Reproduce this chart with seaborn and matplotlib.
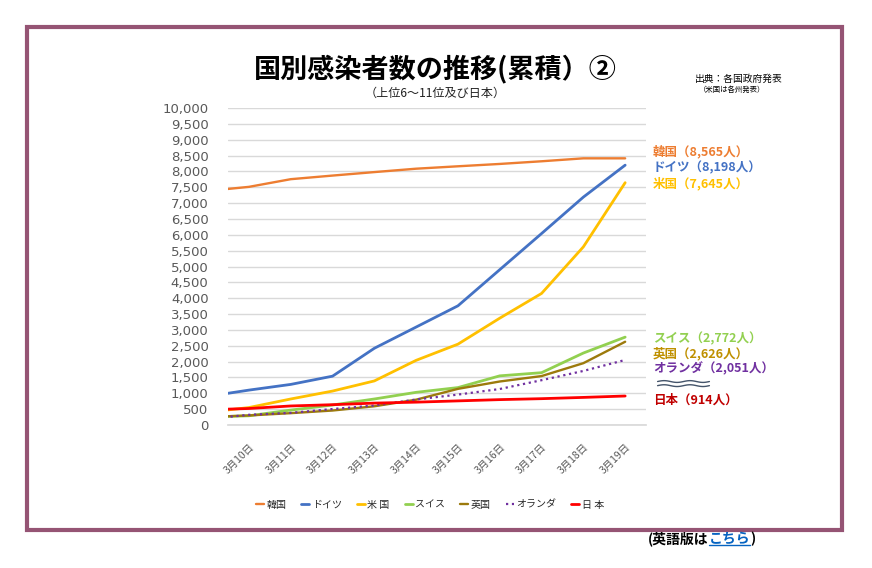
import matplotlib
matplotlib.use("Agg")
import matplotlib.pyplot as plt
import seaborn as sns
import numpy as np
from matplotlib.patches import Rectangle
from matplotlib.lines import Line2D

# data: 3/9 .. 3/19 (3/9 lies just left of the axis and is clipped)
dates = ["3月9日", "3月10日", "3月11日", "3月12日", "3月13日", "3月14日",
         "3月15日", "3月16日", "3月17日", "3月18日", "3月19日"]
korea = [7382, 7513, 7755, 7869, 7979, 8086, 8162, 8236, 8320, 8413, 8413]
germany = [900, 1100, 1280, 1540, 2420, 3090, 3760, 4900, 6040, 7190, 8198]
usa = [400, 550, 820, 1070, 1390, 2040, 2550, 3370, 4150, 5620, 7645]
swiss = [250, 290, 470, 630, 820, 1030, 1180, 1550, 1650, 2270, 2772]
uk = [250, 300, 373, 456, 590, 798, 1140, 1372, 1543, 1950, 2626]
netherlands = [188, 321, 382, 503, 614, 804, 959, 1135, 1413, 1705, 2051]
japan = [480, 520, 600, 640, 690, 720, 760, 800, 830, 870, 914]

legend_names = ["韓国", "ドイツ", "米 国", "スイス", "英国", "オランダ", "日 本"]
end_labels = ["韓国（8,565人）", "ドイツ（8,198人）", "米国（7,645人）",
              "スイス（2,772人）", "英国（2,626人）", "オランダ（2,051人）", "日本（914人）"]

sns.set_theme(style="white")
plt.rcParams['font.family'] = ['Noto Sans CJK JP', 'DejaVu Sans']

fig = plt.figure(figsize=(8.72, 5.68), dpi=100)
ax = fig.add_axes([0.2615, 0.2518, 0.4794, 0.558])

x = np.arange(len(dates)) - 1
series = [korea, germany, usa, swiss, uk, netherlands, japan]
colors = ["#ED7D31", "#4472C4", "#FFC000", "#92D050", "#9C7A0C", "#7030A0", "#FF0000"]
widths = [1.7, 2.0, 2.0, 2.0, 1.7, 1.6, 2.0]
styles = ["-", "-", "-", "-", "-", ":", "-"]

for vals, name, c, lw, ls in zip(series, legend_names, colors, widths, styles):
    sns.lineplot(x=x, y=vals, ax=ax, color=c, linewidth=lw, linestyle=ls, label=name)

ax.set_xlim(-0.5, 9.5)
ax.set_ylim(0, 10000)
ax.set_yticks(np.arange(0, 10001, 500))
ax.set_yticklabels([f"{v:,}" for v in range(0, 10001, 500)],
                   fontsize=9.5, color="#595959", family="DejaVu Sans")
ax.set_xticks(np.arange(10))
ax.set_xticklabels(dates[1:], rotation=45, ha="right", rotation_mode="anchor",
                   fontsize=7.5, color="#595959")
ax.set_xticks(np.arange(-0.5, 10, 1), minor=True)
ax.tick_params(axis="x", which="major", length=0, pad=12)
ax.tick_params(axis="x", which="minor", length=5, color="#D9D9D9", width=1)
ax.tick_params(axis="y", length=0, pad=14)
ax.grid(axis="y", color="#D9D9D9", linewidth=1)
ax.set_axisbelow(True)
for s in ["top", "right", "left"]:
    ax.spines[s].set_visible(False)
ax.spines["bottom"].set_color("#D9D9D9")
ax.set_xlabel("")
ax.set_ylabel("")
ax.get_legend().remove()

handles, labels = ax.get_legend_handles_labels()
fig.legend(handles, labels, loc="center", bbox_to_anchor=(0.493, 0.111), ncol=7,
           frameon=False, fontsize=7.2, handlelength=0.8, columnspacing=1.5,
           handletextpad=0.25)

# titles
fig.text(0.499, 0.879, "国別感染者数の推移(累積）②", ha="center", va="center",
         fontsize=19.5, fontweight="bold", color="black")
fig.text(0.499, 0.836, "（上位6～11位及び日本）", ha="center", va="center",
         fontsize=8.7, color="#222222")
fig.text(0.797, 0.862, "出典：各国政府発表", ha="left", va="center", fontsize=7, color="black")
fig.text(0.802, 0.841, "（米国は各州発表）", ha="left", va="center", fontsize=5.3, color="black")

# labels at line ends
label_colors = ["#ED7D31", "#4472C4", "#FFC000", "#92D050", "#BF9000", "#7030A0", "#C00000"]
label_y = [152, 168, 184, 339, 354, 369, 400]
for txt, c, py in zip(end_labels, label_colors, label_y):
    fig.text(653 / 872, 1 - py / 568, txt, ha="left", va="center",
             fontsize=9, fontweight="bold", color=c)

# wavy break mark
wax = fig.add_axes([655 / 872, 1 - 388 / 568, 57 / 872, 10 / 568])
wx = np.linspace(0, 4 * np.pi, 100)
wax.plot(wx, np.sin(wx) * 0.3 + 1.2, color="#44546A", lw=1)
wax.plot(wx, np.sin(wx) * 0.3 - 0.2, color="#44546A", lw=1)
wax.set_ylim(-1, 2.4)
wax.axis("off")

# frame
fig.patches.append(Rectangle((27 / 872, 1 - 530 / 568), 815 / 872, 503 / 568,
                             transform=fig.transFigure, fill=False,
                             edgecolor="#955474", linewidth=3))

# english link
fig.canvas.draw()
r = fig.canvas.get_renderer()
y_link = 1 - 539 / 568
t1 = fig.text(648 / 872, y_link, "(英語版は", ha="left", va="center",
              fontsize=10, fontweight="bold", color="black")
b1 = t1.get_window_extent(r)
t2 = fig.text(b1.x1 / 872, y_link, "こちら", ha="left", va="center",
              fontsize=10, fontweight="bold", color="#0563C1")
b2 = t2.get_window_extent(r)
fig.text(b2.x1 / 872, y_link, ")", ha="left", va="center",
         fontsize=10, fontweight="bold", color="black")
fig.lines.append(Line2D([b2.x0 / 872, b2.x1 / 872], [b2.y0 / 568 + 0.002] * 2,
                        transform=fig.transFigure, color="#0563C1", lw=1))

fig.savefig("out.png", dpi=100, facecolor="white")
